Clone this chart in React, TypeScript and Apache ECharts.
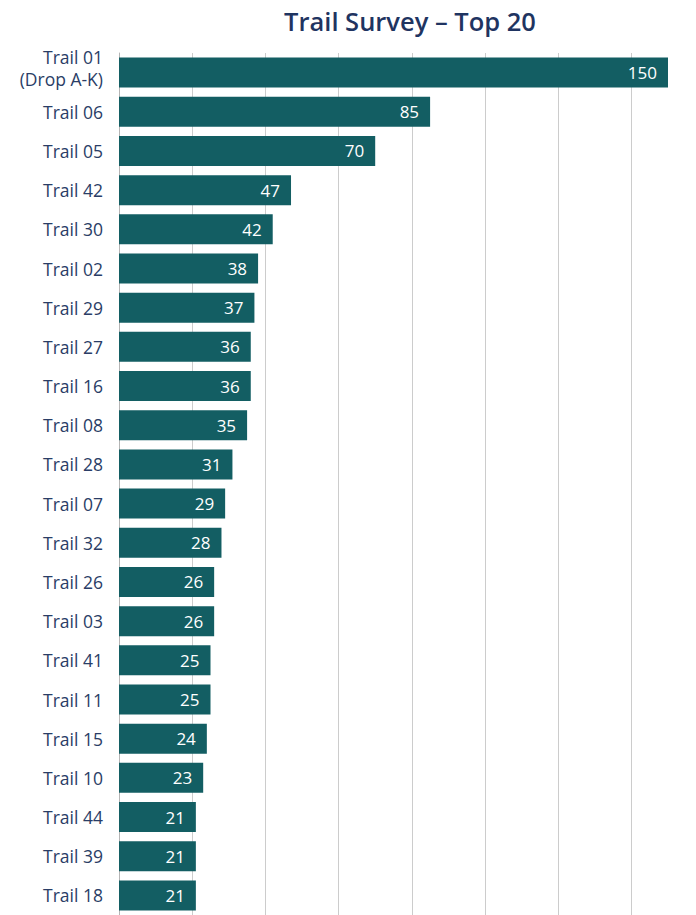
import React, { useEffect, useRef } from "react";
import * as echarts from "echarts";

const titleText = "Trail Survey – Top 20";
const categories = [
  "Trail 01\n(Drop A-K)", "Trail 06", "Trail 05", "Trail 42", "Trail 30", "Trail 02",
  "Trail 29", "Trail 27", "Trail 16", "Trail 08", "Trail 28", "Trail 07", "Trail 32",
  "Trail 26", "Trail 03", "Trail 41", "Trail 11", "Trail 15", "Trail 10", "Trail 44",
  "Trail 39", "Trail 18",
];
const values = [150, 85, 70, 47, 42, 38, 37, 36, 36, 35, 31, 29, 28, 26, 26, 25, 25, 24, 23, 21, 21, 21];
const axisMax = 150;
const axisInterval = 20;

const FONT = "'Open Sans', 'Noto Sans', sans-serif";

export default function App() {
  const ref = useRef<HTMLDivElement>(null);
  useEffect(() => {
    document.body.style.margin = "0";
    if (!ref.current) return;
    const chart = echarts.init(ref.current, null, { renderer: "svg" });
    chart.setOption({
      animation: false,
      title: {
        text: titleText,
        left: 410,
        top: 6,
        padding: 0,
        textAlign: "center",
        textStyle: { fontFamily: FONT, fontSize: 25.5, fontWeight: 600, color: "#1f3461", lineHeight: 30 },
      },
      grid: { left: 119, right: 28, top: 53, bottom: -2, containLabel: false },
      xAxis: {
        type: "value",
        min: 0,
        max: axisMax,
        interval: axisInterval,
        axisLabel: { show: false },
        axisTick: { show: false },
        axisLine: { show: false },
        splitLine: { show: true, showMaxLine: false, showMinLine: false, lineStyle: { color: "#cccccc", width: 1 } },
      },
      yAxis: {
        type: "category",
        data: categories,
        inverse: true,
        axisTick: { show: false },
        axisLine: { show: true, lineStyle: { color: "#b5b5b5", width: 1 } },
        axisLabel: {
          margin: 16,
          fontFamily: FONT,
          fontSize: 17.5,
          fontWeight: 400,
          color: "#2a3d66",
          lineHeight: 22,
          align: "right",
          formatter: (v: string) => (v.indexOf("\n") >= 0 ? v + "\n{sp|}" : v),
          rich: { sp: { fontSize: 1, lineHeight: 10, height: 10 } },
        },
      },
      series: [
        {
          type: "bar",
          data: values,
          barWidth: 30,
          itemStyle: { color: "#135e63" },
          label: {
            show: true,
            position: "insideRight",
            distance: 11,
            color: "#ffffff",
            fontFamily: FONT,
            fontSize: 17,
            fontWeight: 400,
          },
        },
      ],
    });
    return () => chart.dispose();
  }, []);
  return <div ref={ref} style={{ width: 696, height: 915 }} />;
}
